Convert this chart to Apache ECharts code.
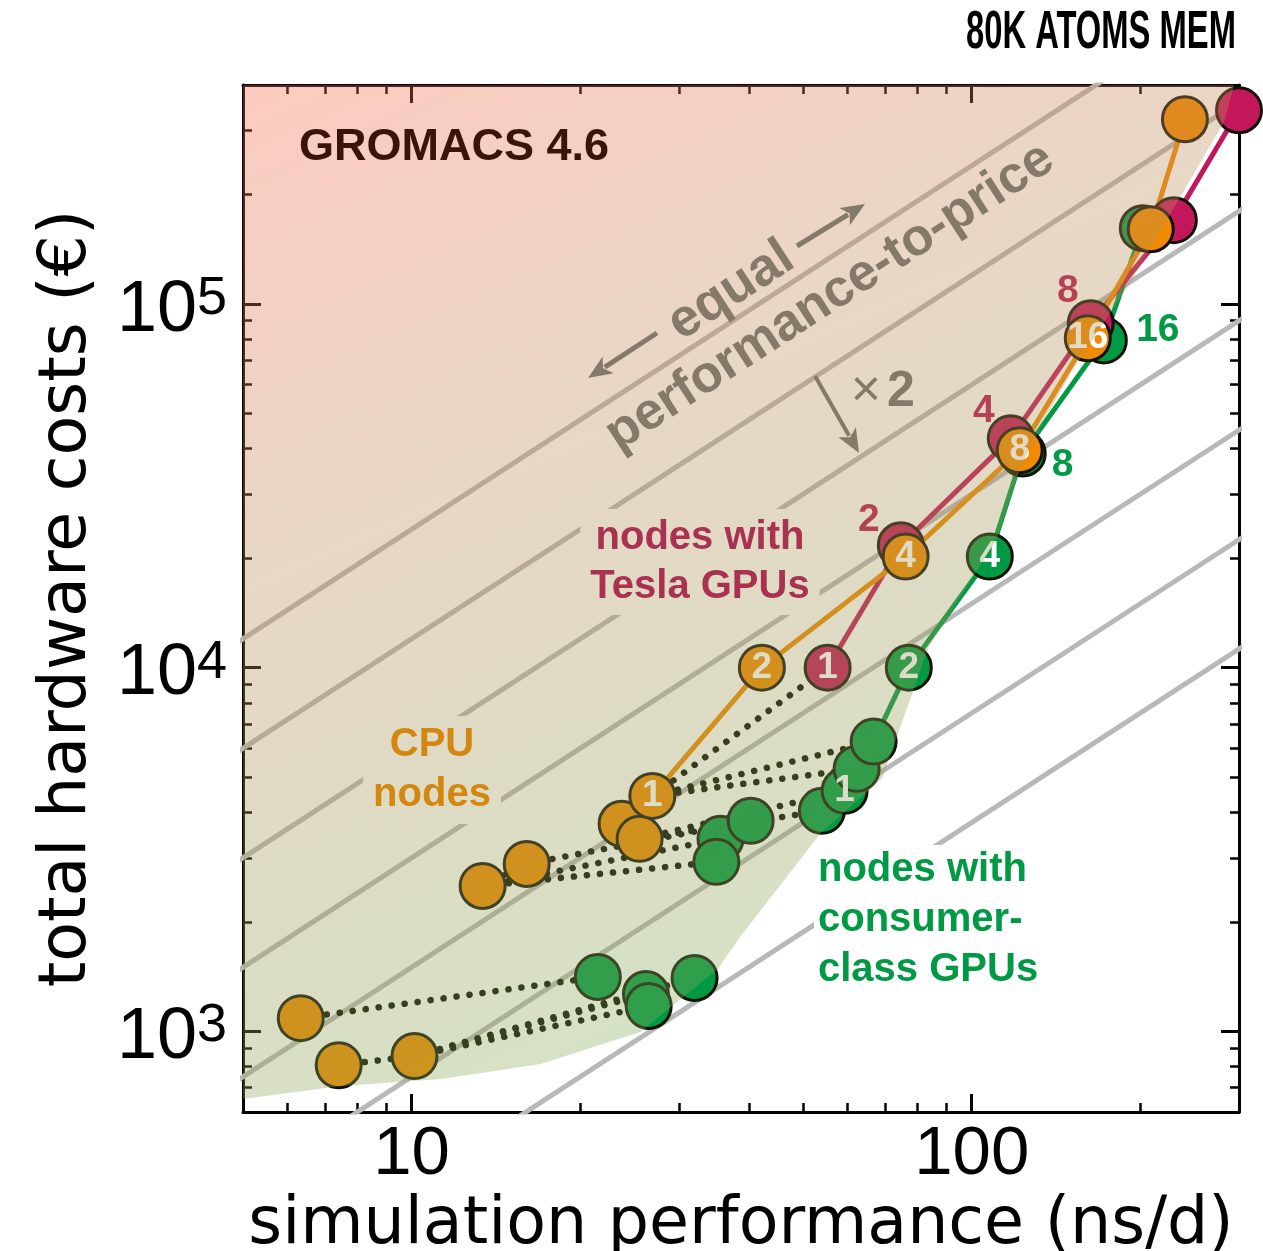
<!DOCTYPE html>
<html>
<head>
<meta charset="utf-8">
<title>GROMACS 4.6 – 80K atoms MEM</title>
<script src="https://cdn.jsdelivr.net/npm/echarts@6.0.0/dist/echarts.min.js"></script>
<style>
html,body{margin:0;padding:0;background:#fff;}
#chart{width:1263px;height:1251px;}
</style>
</head>
<body>
<div id="chart"></div>
<script>
// ---------------- data ----------------
const xTicks = [10, 100];
const xMinorTicks = [6, 7, 8, 9, 20, 30, 40, 50, 60, 70, 80, 90, 200];
const yTicks = [1000, 10000, 100000];
const yMinorTicks = [700, 800, 900, 2000, 3000, 4000, 5000, 6000, 7000, 8000, 9000,
  20000, 30000, 40000, 50000, 60000, 70000, 80000, 90000, 200000, 300000];

// CPU nodes (orange line)
const cpuPerf  = [26.9, 42.2, 76.2, 121.8, 161.1, 208.7, 240.2];
const cpuCost  = [4440, 10000, 20200, 39600, 80500, 160500, 322000];
const cpuNodes = ['1', '2', '4', '8', '16', '', ''];

// nodes with Tesla GPUs (magenta line)
const teslaPerf  = [55.3, 74.7, 117.4, 163.1, 229.5, 300];
const teslaCost  = [10000, 21700, 42700, 88500, 170000, 341000];
const teslaInner = ['1', '', '', '', '', ''];
const teslaOuter = ['', '2', '4', '8', '', ''];

// nodes with consumer-class GPUs (green line)
const consumerPerf  = [66.8, 77.2, 107.7, 123.3, 172.1, 202];
const consumerCost  = [6260, 10000, 20200, 38800, 79400, 161600];
const consumerInner = ['', '2', '4', '', '', ''];
const consumerOuter = ['', '', '', '8', '16', ''];

// single-node CPU-only configurations (orange)
const cpuSinglePerf = [6.34, 7.41, 10.12, 13.39, 16.05, 23.71, 25.53];
const cpuSingleCost = [1087, 807, 855, 2510, 2886, 3720, 3382];

// single-node configurations with consumer GPUs (green)
const gpuSinglePerf  = [21.5, 26.2, 26.5, 32.0, 35.6, 40.3, 35.0, 54.0, 59.3, 62.3];
const gpuSingleCost  = [1411, 1266, 1174, 1402, 3382, 3791, 2924, 4038, 4584, 5270];
const gpuSingleNodes = ['', '', '', '', '', '', '', '', '1', ''];

// dotted links: CPU-only node -> same node with GPU(s)
const linkFrom = [['c',0],['c',1],['c',2],['c',2],['c',2],['c',3],['c',3],['c',3],['c',4],['c',6],['c',6],['L',0],['L',0],['L',0]];
const linkTo   = [['g',0],['c',2],['g',1],['g',2],['g',3],['c',4],['g',6],['g',4],['g',5],['g',7],['g',8],['T',0],['g',9],['K',0]];

// equal performance-to-price lines (cost / performance, factor 2 apart)
const ratioLines = [37.5, 75, 150, 300, 600, 1200, 2400];

// envelope of the shaded region
const envelopePerf = [5, 7.47, 11.3, 17.0, 25.6, 35.2, 38.7, 53.8, 69.1, 83.8, 111, 122, 133, 152, 192, 282, 294, 5];
const envelopeCost = [651, 707, 739, 813, 995, 1484, 1829, 3514, 4948, 11400, 22650, 35300, 46400, 66500, 114800, 316000, 400000, 400000];

// ---------------- styling ----------------
const FONT = '"Liberation Sans", Arial, sans-serif';
const TFONT = '"DejaVu Sans", sans-serif';
const ORANGE = '#f08a00', MAGENTA = '#c2185b', GREEN = '#009a44';
const EDGE = '#111108';
const GL = 243, GT = 85, GW = 996, GH = 1027;
const MS = 45;

const bgStops = [[0, '#fccabf'], [0.4, '#e8d7c5'], [0.7, '#dcdcc4'], [1, '#d2e3c6']];
const ALPHA = 0.35;
function overlayColor(hex) {
  const n = parseInt(hex.slice(1), 16);
  const c = [(n >> 16) & 255, (n >> 8) & 255, n & 255].map(t =>
    Math.max(0, Math.min(255, Math.round((t - (1 - ALPHA) * 255) / ALPHA))));
  return 'rgba(' + c.join(',') + ',' + ALPHA + ')';
}
function grad(stops) {
  return { type: 'linear', x: GL, y: GT, x2: 700, y2: GT + GH, global: true,
    colorStops: stops.map(([o, c]) => ({ offset: o, color: c })) };
}
const overlayFill = grad(bgStops.map(([o, c]) => [o, overlayColor(c)]));
const solidFill = grad(bgStops);

const innerLabel = { show: true, position: 'inside', color: '#fff', fontSize: 37, fontWeight: 'bold', fontFamily: FONT };

function items(perf, cost, inner, outer, outerColor, offsets) {
  return perf.map((p, i) => {
    const it = { value: [p, cost[i]] };
    if (inner && inner[i]) it.label = Object.assign({}, innerLabel, { formatter: inner[i] });
    else if (outer && outer[i]) it.label = { show: true, position: 'inside', formatter: outer[i],
      offset: offsets[i], color: outerColor, fontSize: 39, fontWeight: 'bold', fontFamily: FONT };
    return it;
  });
}
function resolve(ref) {
  const [k, i] = ref;
  if (k === 'c') return [cpuSinglePerf[i], cpuSingleCost[i]];
  if (k === 'g') return [gpuSinglePerf[i], gpuSingleCost[i]];
  if (k === 'L') return [cpuPerf[i], cpuCost[i]];
  if (k === 'T') return [teslaPerf[i], teslaCost[i]];
  return [consumerPerf[i], consumerCost[i]];
}

const markerStyle = c => ({ color: c, borderColor: EDGE, borderWidth: 3, opacity: 1 });

// ---------------- axes ----------------
function xAx(pos, major, withLabel) {
  const a = {
    type: 'log', logBase: 10, min: 5, max: 300, position: pos,
    axisLine: { show: major, onZero: false, lineStyle: { color: '#000', width: 3 } },
    axisTick: { show: true, inside: true, length: major ? 18 : 9,
      lineStyle: { color: '#000', width: major ? 3 : 2.5 },
      customValues: major ? xTicks : xMinorTicks },
    axisLabel: { show: false },
    splitLine: { show: false }, minorTick: { show: false }, minorSplitLine: { show: false }
  };
  if (withLabel) {
    a.axisLabel = { show: true, customValues: xTicks, formatter: v => String(Math.round(v)),
      fontSize: 69, fontFamily: FONT, color: '#000', margin: 8 };
    a.name = 'simulation performance (ns/d)';
    a.nameLocation = 'middle';
    a.nameGap = 62;
    a.nameTextStyle = { fontSize: 65, fontFamily: TFONT, color: '#000' };
  }
  return a;
}
function yAx(pos, major, withLabel) {
  const a = {
    type: 'log', logBase: 10, min: 600, max: 400000, position: pos,
    axisLine: { show: major, onZero: false, lineStyle: { color: '#000', width: 3 } },
    axisTick: { show: true, inside: true, length: major ? 18 : 9,
      lineStyle: { color: '#000', width: major ? 3 : 2.5 },
      customValues: major ? yTicks : yMinorTicks },
    axisLabel: { show: false },
    splitLine: { show: false }, minorTick: { show: false }, minorSplitLine: { show: false }
  };
  if (withLabel) {
    a.axisLabel = { show: true, customValues: yTicks, margin: 16, padding: [14, 0, 0, 0],
      formatter: v => '{b|10}{s|' + Math.round(Math.log10(v)) + '}',
      rich: {
        b: { fontSize: 72, fontFamily: FONT, color: '#000', lineHeight: 78 },
        s: { fontSize: 54, fontFamily: FONT, color: '#000', verticalAlign: 'top', lineHeight: 34 }
      } };
    a.name = 'total hardware costs (€)';
    a.nameLocation = 'middle';
    a.nameGap = 142;
    a.nameTextStyle = { fontSize: 65, fontFamily: TFONT, color: '#000' };
  }
  return a;
}

// ---------------- series ----------------
const series = [];
ratioLines.forEach(r => {
  series.push({ type: 'line', z: 1, silent: true, showSymbol: false, clip: true,
    data: [[1, r * 1], [1000, r * 1000]],
    lineStyle: { color: '#b8b8b8', width: 5 } });
});
series.push({ type: 'lines', coordinateSystem: 'cartesian2d', z: 2, silent: true,
  data: linkFrom.map((f, i) => ({ coords: [resolve(f), resolve(linkTo[i])] })),
  lineStyle: { color: '#050a00', width: 6.5, type: [0.1, 13], cap: 'round', opacity: 1, curveness: 0 } });

series.push({ type: 'scatter', z: 3, symbol: 'circle', symbolSize: MS,
  data: gpuSinglePerf.map((p, i) => {
    const it = { value: [p, gpuSingleCost[i]] };
    if (gpuSingleNodes[i]) it.label = Object.assign({}, innerLabel, { formatter: gpuSingleNodes[i] });
    return it;
  }),
  itemStyle: markerStyle(GREEN) });

series.push({ type: 'line', z: 3, symbol: 'circle', symbolSize: MS, showSymbol: true,
  data: items(consumerPerf, consumerCost, consumerInner, consumerOuter, GREEN, { 3: [40, 12], 4: [54, -10] }),
  lineStyle: { color: GREEN, width: 5 }, itemStyle: markerStyle(GREEN) });

series.push({ type: 'line', z: 3, symbol: 'circle', symbolSize: MS, showSymbol: true,
  data: items(teslaPerf, teslaCost, teslaInner, teslaOuter, '#b8164f', { 1: [-32, -25], 2: [-27, -27], 3: [-23, -32] }),
  lineStyle: { color: MAGENTA, width: 5 }, itemStyle: markerStyle(MAGENTA) });

series.push({ type: 'scatter', z: 3, symbol: 'circle', symbolSize: MS,
  data: cpuSinglePerf.map((p, i) => [p, cpuSingleCost[i]]),
  itemStyle: markerStyle(ORANGE) });

series.push({ type: 'line', z: 3, symbol: 'circle', symbolSize: MS, showSymbol: true,
  data: items(cpuPerf, cpuCost, cpuNodes, null, null, {}),
  lineStyle: { color: ORANGE, width: 5 }, itemStyle: markerStyle(ORANGE) });

// translucent shaded region on top
series.push({ type: 'custom', z: 10, silent: true, clip: true,
  data: [[10, 1000]],
  renderItem: (params, api) => ({
    type: 'polygon',
    shape: { points: envelopePerf.map((p, i) => api.coord([p, envelopeCost[i]])) },
    style: { fill: overlayFill }
  }) });

// ---------------- annotations ----------------
function txt(text, x, y, font, fill, align, extra) {
  return { type: 'text', z: 100, silent: true,
    style: Object.assign({ text, x, y, font, fill, textFill: fill,
      textAlign: align || 'center', textVerticalAlign: 'middle',
      align: align || 'center', verticalAlign: 'middle' }, extra || {}) };
}
function bgText(text, x, y, fill, align, bg, lh, pad) {
  return txt(text, x, y, 'bold 40px ' + FONT, fill, align, {
    lineHeight: lh, textLineHeight: lh,
    backgroundColor: bg, textBackgroundColor: bg, padding: pad, textPadding: pad });
}
const ARROWC = '#857a69';
function arrow(x1, y1, x2, y2, w, head) {
  const ang = Math.atan2(y2 - y1, x2 - x1);
  const bx = x2 - head * Math.cos(ang), by = y2 - head * Math.sin(ang);
  const px = -Math.sin(ang) * head * 0.42, py = Math.cos(ang) * head * 0.42;
  return [
    { type: 'line', z: 100, silent: true, shape: { x1, y1, x2: bx + 4 * Math.cos(ang), y2: by + 4 * Math.sin(ang) },
      style: { stroke: ARROWC, lineWidth: w } },
    { type: 'polygon', z: 100, silent: true,
      shape: { points: [[x2, y2], [bx + px, by + py], [bx + 0.25 * head * Math.cos(ang), by + 0.25 * head * Math.sin(ang)], [bx - px, by - py]] },
      style: { fill: ARROWC } }
  ];
}
const rot = 33 * Math.PI / 180;
function rotText(text, x, y, size) {
  return { type: 'text', z: 100, silent: true, x, y, rotation: rot,
    style: { text, x: 0, y: 0, font: 'bold ' + size + 'px ' + FONT, fill: ARROWC, textFill: ARROWC,
      textAlign: 'center', textVerticalAlign: 'middle', align: 'center', verticalAlign: 'middle' } };
}

// width of the condensed header
const mc = document.createElement('canvas').getContext('2d');
mc.font = 'bold 54px ' + FONT;
const hdrScale = 270 / mc.measureText('80K ATOMS MEM').width;

const graphic = [
  bgText('nodes with\nTesla GPUs', 700, 562, '#a8324f', 'center', solidFill, 49, [4, 10]),
  bgText('CPU\nnodes', 432, 770, '#d4870f', 'center', solidFill, 50, [4, 10]),
  bgText('nodes with\nconsumer-\nclass GPUs', 814, 920, GREEN, 'left', '#fff', 50, [0, 4]),
  txt('GROMACS 4.6', 299, 148, 'bold 45px ' + FONT, '#3b1309', 'left'),
  rotText('equal', 731, 291, 53),
  rotText('performance-to-price', 830, 297, 52),
  ...arrow(657, 333, 588, 378, 5, 24),
  ...arrow(797, 246, 865, 204, 5, 24),
  ...arrow(815, 376, 859, 453, 4, 24),
  txt('×', 866, 392, '52px ' + FONT, ARROWC, 'center'),
  txt('2', 901, 392, 'bold 50px ' + FONT, ARROWC, 'center'),
  { type: 'text', z: 100, silent: true, x: 1236, y: 33, scaleX: hdrScale, scaleY: 1,
    style: { text: '80K ATOMS MEM', x: 0, y: 0, font: 'bold 54px ' + FONT, fill: '#000', textFill: '#000',
      textAlign: 'right', textVerticalAlign: 'middle', align: 'right', verticalAlign: 'middle' } }
];

const chart = echarts.init(document.getElementById('chart'), null, { renderer: 'canvas' });
chart.setOption({
  animation: false,
  backgroundColor: '#fff',
  grid: { left: GL, top: GT, width: GW, height: GH, containLabel: false, outerBoundsMode: 'none', show: false },
  xAxis: [xAx('bottom', true, true), xAx('bottom', false, false), xAx('top', true, false), xAx('top', false, false)],
  yAxis: [yAx('left', true, true), yAx('left', false, false), yAx('right', true, false), yAx('right', false, false)],
  series,
  graphic
});
</script>
</body>
</html>
